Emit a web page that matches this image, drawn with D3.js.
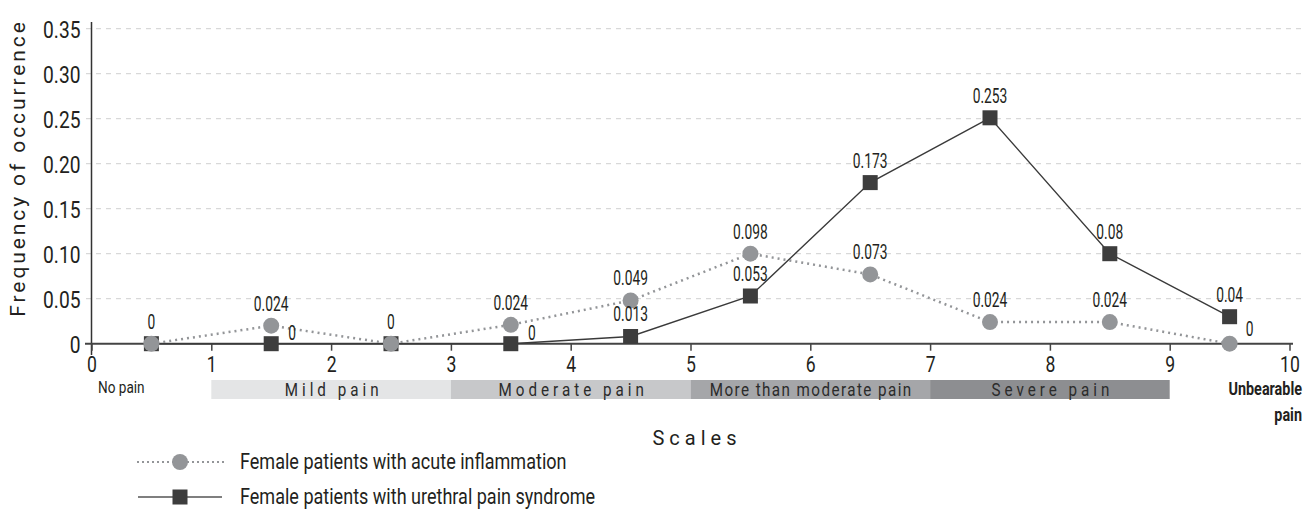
<!DOCTYPE html>
<html>
<head>
<meta charset="utf-8">
<script src="https://cdn.jsdelivr.net/npm/d3@7"></script>
<style>
  body { margin: 0; background: #fff; }
  svg { display: block; font-family: Roboto, "DejaVu Sans", sans-serif; }
  .grid line { stroke: #cfcfcf; stroke-dasharray: 5,5; stroke-width: 1; }
</style>
</head>
<body>
<div id="chart"></div>
<script>
// pain scale positions (centre of each bin)
const scalePoints = [0.5, 1.5, 2.5, 3.5, 4.5, 5.5, 6.5, 7.5, 8.5, 9.5];

// plotted positions as drawn in the figure
const acuteValues = [0, 0.020, 0, 0.021, 0.048, 0.100, 0.077, 0.024, 0.024, 0];
const urethralValues = [0, 0, 0, 0, 0.008, 0.053, 0.179, 0.251, 0.100, 0.030];

// printed labels (null = not shown)
const acuteLabels = ["0", "0.024", "0", "0.024", "0.049", "0.098", "0.073", "0.024", "0.024", "0"];
const urethralLabels = [null, "0", null, "0", "0.013", "0.053", "0.173", "0.253", "0.08", "0.04"];

const yTicks = [0, 0.05, 0.10, 0.15, 0.20, 0.25, 0.30, 0.35];
const yTickLabels = ["0", "0.05", "0.10", "0.15", "0.20", "0.25", "0.30", "0.35"];
const xTicks = [0, 1, 2, 3, 4, 5, 6, 7, 8, 9, 10];

const bands = [
    { from: 1, to: 3, name: "Mild pain", fill: "#e4e5e6", spacing: 5 },
    { from: 3, to: 5, name: "Moderate pain", fill: "#c7c8ca", spacing: 5 },
    { from: 5, to: 7, name: "More than moderate pain", fill: "#a5a6a9", spacing: 1.8 },
    { from: 7, to: 9, name: "Severe pain", fill: "#8d8e91", spacing: 5 }
];

const seriesNames = ["Female patients with acute inflammation", "Female patients with urethral pain syndrome"];

const width = 1306, height = 510;
const svg = d3.select('#chart').append('svg').attr('width', width).attr('height', height);

let x = d3.scaleLinear().domain([0, 10]).range([91.5, 1289.5]);
let y = d3.scaleLinear().domain([0, 0.35]).range([343.7, 28.7]);

// the original uses a condensed face, so squeeze text horizontally
function squeeze(sel, k) {
    sel.each(function() {
        let t = d3.select(this);
        let x0 = +t.attr('x') || 0;
        t.attr('x', x0 / k).attr('transform', `scale(${k},1)`);
    });
}

// grid lines
svg.append('g').attr('class', 'grid')
    .selectAll('line')
    .data(yTicks.filter(d => d > 0))
    .enter().append('line')
    .attr('x1', 86).attr('x2', 1302)
    .attr('y1', d => y(d)).attr('y2', d => y(d));

// y axis
let yAxis = d3.axisLeft(y).tickValues(yTicks).tickFormat((d, i) => yTickLabels[i]).tickSize(0).tickPadding(11);
let yg = svg.append('g').attr('transform', `translate(${x(0)},0)`).call(yAxis);
yg.attr('font-family', null);
yg.select('.domain').remove();
yg.selectAll('text').style('font-size', '24px').attr('fill', '#231f20').attr('dy', '0.36em');
squeeze(yg.selectAll('text'), 0.8);

svg.append('line').attr('x1', x(0)).attr('x2', x(0)).attr('y1', 22).attr('y2', 355)
    .attr('stroke', '#333').attr('stroke-width', 1.5);

// x axis
let xAxis = d3.axisBottom(x).tickValues(xTicks).tickSize(7).tickPadding(6);
let xg = svg.append('g').attr('transform', `translate(0,${y(0)})`).call(xAxis);
xg.attr('font-family', null);
xg.select('.domain').attr('d', `M85,0H1293`).attr('stroke', '#444').attr('stroke-width', 2);
xg.selectAll('.tick line').attr('stroke', '#444').attr('stroke-width', 1.5);
xg.selectAll('text').style('font-size', '22px').attr('fill', '#231f20');
squeeze(xg.selectAll('text'), 0.8);

svg.append('text').attr('transform', `translate(25,${(18 + 318) / 2}) rotate(-90)`)
    .attr('text-anchor', 'middle')
    .style('font-size', '21px')
    .style('letter-spacing', '2.9px').attr('fill', '#231f20')
    .text('Frequency of occurrence');

// pain bands
let bandG = svg.append('g');
bandG.selectAll('rect').data(bands).enter().append('rect')
    .attr('x', d => x(d.from)).attr('width', d => x(d.to) - x(d.from))
    .attr('y', 380).attr('height', 19).attr('fill', d => d.fill);
let bandText = bandG.selectAll('text').data(bands).enter().append('text')
    .attr('x', d => (x(d.from) + x(d.to)) / 2 + d.spacing / 2).attr('y', 396)
    .attr('text-anchor', 'middle').style('font-size', '19px')
    .style('letter-spacing', d => d.spacing + 'px').attr('fill', '#2b2b2b')
    .text(d => d.name);
squeeze(bandText, 0.8);

let np = svg.append('text').attr('x', 98).attr('y', 393)
    .style('font-size', '17px').attr('fill', '#231f20').text('No pain');
squeeze(np, 0.8);
let ub1 = svg.append('text').attr('x', 1302).attr('y', 395).attr('text-anchor', 'end')
    .style('font-size', '18px').style('font-weight', 'bold').attr('fill', '#231f20').text('Unbearable');
let ub2 = svg.append('text').attr('x', 1302).attr('y', 421).attr('text-anchor', 'end')
    .style('font-size', '18px').style('font-weight', 'bold').attr('fill', '#231f20').text('pain');
squeeze(ub1, 0.8);
squeeze(ub2, 0.8);

svg.append('text').attr('x', 697).attr('y', 445).attr('text-anchor', 'middle')
    .style('font-size', '20px')
    .style('letter-spacing', '5px').attr('fill', '#231f20').text('Scales');

// lines
let line = d3.line().x((d, i) => x(scalePoints[i])).y(d => y(d));

svg.append('path').datum(acuteValues).attr('d', line)
    .attr('fill', 'none').attr('stroke', '#939598').attr('stroke-width', 2.5)
    .attr('stroke-dasharray', '2,4');
svg.append('path').datum(urethralValues).attr('d', line)
    .attr('fill', 'none').attr('stroke', '#3a3a3a').attr('stroke-width', 1.4);

// markers
svg.append('g').selectAll('rect').data(urethralValues).enter().append('rect')
    .attr('x', (d, i) => x(scalePoints[i]) - 7.5).attr('y', d => y(d) - 7.5)
    .attr('width', 15).attr('height', 15).attr('fill', '#3d3d3d');
svg.append('g').selectAll('circle').data(acuteValues).enter().append('circle')
    .attr('cx', (d, i) => x(scalePoints[i])).attr('cy', d => y(d))
    .attr('r', 8).attr('fill', '#939598');

// value labels
let labelG = svg.append('g').style('font-size', '20px').attr('fill', '#231f20');
acuteLabels.forEach((lbl, i) => {
    if (lbl === null) return;
    let right = (i === 9);
    let t = labelG.append('text')
        .attr('x', x(scalePoints[i]) + (right ? 20 : 0))
        .attr('y', y(acuteValues[i]) + (right ? -8 : -15))
        .attr('text-anchor', 'middle').text(lbl);
    squeeze(t, 0.69);
});
urethralLabels.forEach((lbl, i) => {
    if (lbl === null) return;
    let right = (urethralValues[i] === 0);
    let t = labelG.append('text')
        .attr('x', x(scalePoints[i]) + (right ? 21 : 0))
        .attr('y', y(urethralValues[i]) + (right ? -4 : -15))
        .attr('text-anchor', 'middle').text(lbl);
    squeeze(t, 0.69);
});

// legend
let legend = svg.append('g');
legend.append('line').attr('x1', 137).attr('x2', 224).attr('y1', 462).attr('y2', 462)
    .attr('stroke', '#939598').attr('stroke-width', 2).attr('stroke-dasharray', '2,3');
legend.append('circle').attr('cx', 180).attr('cy', 462).attr('r', 8).attr('fill', '#939598');
legend.append('line').attr('x1', 138).attr('x2', 222).attr('y1', 497).attr('y2', 497)
    .attr('stroke', '#555').attr('stroke-width', 1.5);
legend.append('rect').attr('x', 172.5).attr('y', 489.5).attr('width', 15).attr('height', 15).attr('fill', '#3d3d3d');
let legText = legend.selectAll('text').data(seriesNames).enter().append('text')
    .attr('x', 240).attr('y', (d, i) => 469 + i * 35)
    .style('font-size', '22px').attr('fill', '#231f20').text(d => d);
squeeze(legText, 0.82);
</script>
</body>
</html>
